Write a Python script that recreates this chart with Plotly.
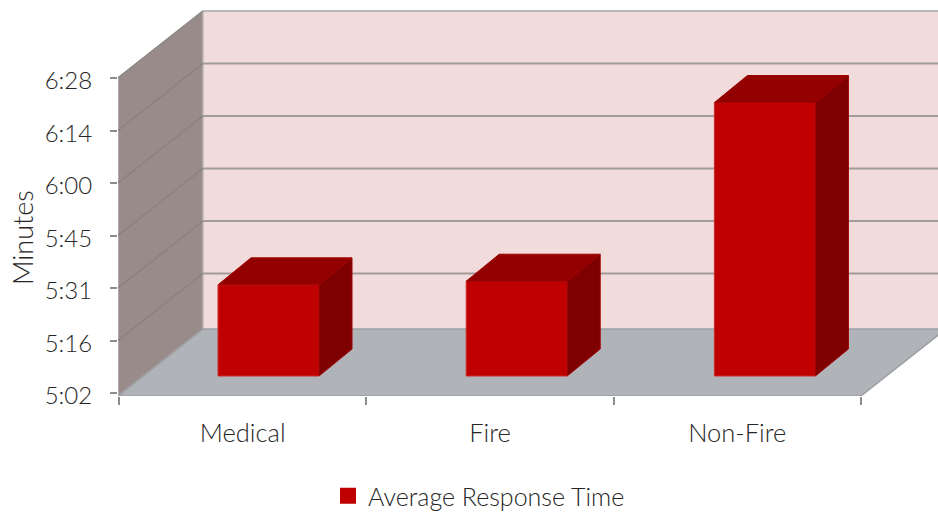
import plotly.graph_objects as go

categories = ["Medical", "Fire", "Non-Fire"]
seconds = [327, 328, 377]            # Average Response Time, seconds
series_name = "Average Response Time"
tick_seconds = [302, 316.4, 330.8, 345.2, 359.6, 374, 388.4]
tick_labels = ["5:02", "5:16", "5:31", "5:45", "6:00", "6:14", "6:28"]

# page geometry
W, H = 938, 514
L, B = 118, 118                 # margins
PX_X = 247.3                    # px per category on the wall axes
PX_X_BAR = 248.2                # px per category on the bar axes
PX_Y = 52.5 / 14.4              # px per second
X0_PX = 119
Y0_PX = 393                     # px of 302 s
FIRST_BAR_PX = 268.5
PLOT_BOTTOM = H - B
BASE = tick_seconds[0]

x_range = [(L - X0_PX) / PX_X, (W - X0_PX) / PX_X]
y_range = [BASE - (PLOT_BOTTOM - Y0_PX) / PX_Y, BASE + Y0_PX / PX_Y]
x2_range = [0.5 - (FIRST_BAR_PX - L) / PX_X_BAR, 0.5 + (W - FIRST_BAR_PX) / PX_X_BAR]

# oblique projection: wall depth and bar placement
wall_dx, wall_dy = 85 / PX_X, 67 / PX_Y
shift_dy = 17 / PX_Y
bar_w = 101 / PX_X_BAR
bar_dx, bar_dy = 33 / PX_X_BAR, 27 / PX_Y

ink = "#262626"
tick_font = dict(family="Lato, Liberation Sans, sans-serif", color=ink, size=24, weight=300)
cat_font = dict(tick_font, size=25.5)
legend_font = dict(tick_font, size=25)
title_font = dict(tick_font, size=27)
n = len(categories)
x_front_l, x_front_r, y_low, y_top = x_range[0], n, y_range[0], tick_seconds[-1]


def poly(points):
    return "M" + " L".join(f"{a},{b}" for a, b in points) + " Z"


shapes = [
    dict(type="path", layer="below", xref="x", yref="y", line_width=0, fillcolor="#f2dcdb",
         path=poly([(x_front_l + wall_dx, y_low + wall_dy), (x_front_l + wall_dx, y_top + wall_dy),
                    (x_range[1] + 1, y_top + wall_dy), (x_range[1] + 1, y_low + wall_dy)])),
    dict(type="path", layer="below", xref="x", yref="y", line=dict(color="#b9b7b7", width=1.5), fillcolor="#998b89",
         path=poly([(x_front_l, y_low), (x_front_l, y_top), (x_front_l + wall_dx, y_top + wall_dy),
                    (x_front_l + wall_dx, y_low + wall_dy)])),
    dict(type="path", layer="below", xref="x", yref="y", line=dict(color="#9c9ea2", width=1.5), fillcolor="#b0b3b8",
         path=poly([(x_front_l, y_low), (x_front_l + wall_dx, y_low + wall_dy),
                    (x_front_r + wall_dx, y_low + wall_dy),
                    (x_front_r, y_low)])),
]
for t in tick_seconds[1:]:
    shapes.append(dict(type="line", layer="below", xref="x", yref="y", x0=x_front_l, y0=t,
                       x1=x_front_l + wall_dx, y1=t + wall_dy, line=dict(color="#88827f", width=1.5)))
    shapes.append(dict(type="line", layer="below", xref="x", yref="y", x0=x_front_l + wall_dx, y0=t + wall_dy,
                       x1=x_range[1], y1=t + wall_dy,
                       line=dict(color="#bdb8b8" if t == tick_seconds[-1] else "#a19b9b", width=2)))

fig = go.Figure()
centers = [i + 0.5 for i in range(n)]

fig.add_trace(go.Bar(x=centers, y=[v - BASE for v in seconds], base=BASE, width=bar_w,
                     marker=dict(color="#c00000", line=dict(color="#cc2a2a", width=1)),
                     xaxis="x2", yaxis="y2", showlegend=False, hoverinfo="skip"))

top_x, top_y, side_x, side_y = [], [], [], []
for c, v in zip(centers, seconds):
    l, r = c - bar_w / 2, c + bar_w / 2
    top_x += [l, l + bar_dx, r + bar_dx, r, l, None]
    top_y += [v, v + bar_dy, v + bar_dy, v, v, None]
    side_x += [r, r + bar_dx, r + bar_dx, r, r, None]
    side_y += [v, v + bar_dy, BASE + bar_dy, BASE, v, None]

fig.add_trace(go.Scatter(x=top_x, y=top_y, mode="lines", fill="toself", fillcolor="#930000",
                         line=dict(color="#a00000", width=1), xaxis="x2", yaxis="y2",
                         showlegend=False, hoverinfo="skip"))
fig.add_trace(go.Scatter(x=side_x, y=side_y, mode="lines", fill="toself", fillcolor="#7f0000",
                         line=dict(color="#a00000", width=1), xaxis="x2", yaxis="y2",
                         showlegend=False, hoverinfo="skip"))
fig.add_trace(go.Scatter(x=[None], y=[None], mode="markers", name=series_name,
                         marker=dict(symbol="square", size=18, color="#c00000"), hoverinfo="skip"))

fig.update_layout(
    width=W, height=H, autosize=False,
    margin=dict(l=L, r=0, t=0, b=B),
    paper_bgcolor="white", plot_bgcolor="white",
    font=tick_font,
    shapes=shapes,
    showlegend=True,
    legend=dict(orientation="h", xref="container", yref="container", x=328 / W, xanchor="left",
                y=1 - 473 / H, yanchor="top", bgcolor="rgba(0,0,0,0)", font=legend_font, itemwidth=30),
    xaxis=dict(range=x_range, tickmode="array", tickvals=centers, ticktext=categories, ticks="", showgrid=False,
               zeroline=False, showline=False, ticklabelstandoff=19, tickfont=cat_font,
               minor=dict(tickmode="array", tickvals=list(range(n + 1)), ticks="outside", ticklen=8, tickwidth=1.5,
                          tickcolor="#8c8c8c", showgrid=False)),
    yaxis=dict(range=y_range, tickmode="array", tickvals=tick_seconds, ticktext=tick_labels, ticks="outside",
               ticklen=7, tickwidth=1.5, tickcolor="#8c8c8c", showgrid=False, zeroline=False, showline=False,
               ticklabelstandoff=13, ticklabelshift=3, tickfont=tick_font),
    xaxis2=dict(range=x2_range, overlaying="x", visible=False, anchor="y2"),
    yaxis2=dict(range=[y_range[0] - shift_dy, y_range[1] - shift_dy], overlaying="y", visible=False, anchor="x2"),
    annotations=[dict(text="Minutes", textangle=-90, xref="paper", yref="paper", showarrow=False,
                      x=(22 - L) / (W - L), y=(H - B - 238) / (H - B), xanchor="center", yanchor="middle",
                      font=title_font)],
)

fig.write_html("out.html", post_script="document.body.style.margin='0';", config={"displayModeBar": False})
